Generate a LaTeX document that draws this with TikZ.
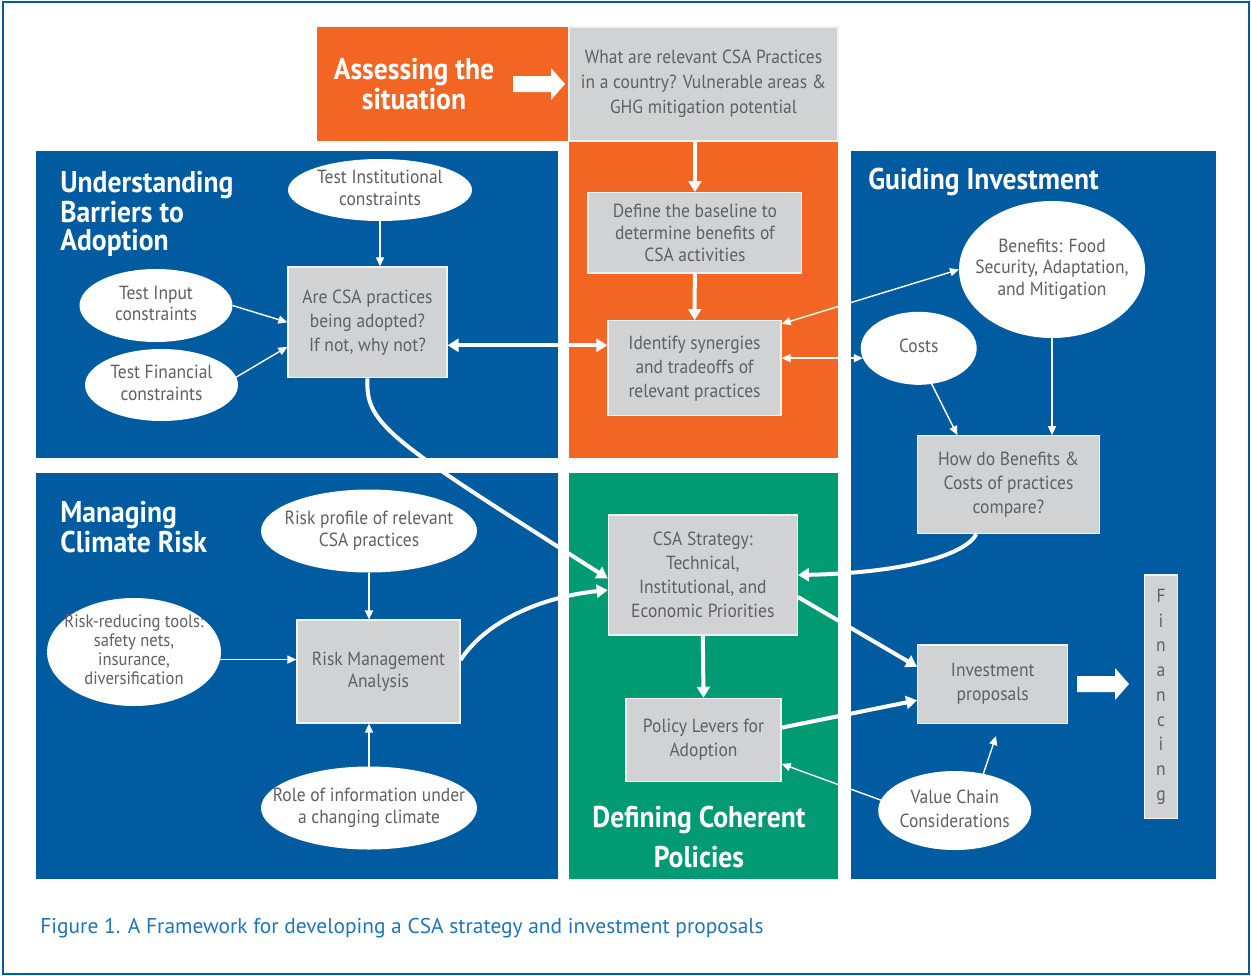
\documentclass[tikz,border=0pt]{standalone}
\usepackage{fontspec}
\setmainfont{PT Sans}[FakeStretch=0.92]
\newfontfamily\capfont{PT Sans}
\usetikzlibrary{arrows.meta,shapes.geometric}

\definecolor{fwblue}{RGB}{0,91,161}
\definecolor{fworange}{RGB}{242,101,34}
\definecolor{fwgreen}{RGB}{0,155,114}
\definecolor{boxgray}{RGB}{209,210,212}
\definecolor{txtgray}{RGB}{95,96,98}
\definecolor{capblue}{RGB}{30,117,187}

\newcommand{\ovaltext}[1]{\makebox[0pt]{\begin{tabular}{@{}c@{}}#1\end{tabular}}}

\tikzset{
  box/.style={rectangle, fill=boxgray, draw=white!70!boxgray, line width=0.6pt,
    text=txtgray, align=center, inner sep=1pt, font=\fontsize{9.5}{12}\selectfont},
  oval/.style={ellipse, fill=white, inner sep=0pt, outer sep=0pt,
    text=txtgray, font=\fontsize{9.5}{10.8}\selectfont},
  title/.style={text=white, inner sep=0pt, align=left,
    font=\fontsize{15}{13.8}\selectfont\bfseries},
  fatline/.style={draw=white, line width=2pt, -{Triangle[length=5.5pt,width=6.5pt]}},
  fatboth/.style={fatline, {Triangle[length=5.5pt,width=6.5pt]}-{Triangle[length=5.5pt,width=6.5pt]}},
  thinline/.style={draw=white, line width=0.7pt, -{Triangle[length=4.5pt,width=4pt]}},
  thinboth/.style={thinline, {Triangle[length=4.5pt,width=4pt]}-{Triangle[length=4.5pt,width=4pt]}},
}

\begin{document}
\begin{tikzpicture}[x=0.5pt,y=-0.5pt]
  \useasboundingbox (0,0) rectangle (1251,975);
  \fill[white] (0,0) rectangle (1251,975);
  \draw[fwblue, line width=1pt] (2.5,1.5) rectangle (1248.5,973.5);

  % panels
  \fill[fworange] (317,27) rectangle (569,141);
  \fill[fworange] (569,141) rectangle (838,458);
  \fill[fwblue] (36,151) rectangle (558,458);
  \fill[fwblue] (36,473) rectangle (558,879);
  \fill[fwgreen] (569,473) rectangle (838,879);
  \fill[fwblue] (851,151) rectangle (1216,879);

  % titles
  \node[title, anchor=north, align=center] (assess) at (414,58) {Assessing the\\situation};
  \node[title, anchor=north west] (barriers) at (60,171) {Understanding\\Barriers to\\Adoption};
  \node[title, anchor=north west] (guiding) at (868,168) {Guiding Investment};
  \node[title, anchor=north west] (managing) at (60,501) {Managing\\Climate Risk};
  \node[title, anchor=north, align=center, font=\fontsize{15}{20}\selectfont\bfseries] (defining) at (699,806) {Defining Coherent\\Policies};

  % boxes
  \node[box, minimum width=134.5pt, minimum height=57pt, font=\fontsize{9.5}{12.5}\selectfont] (question) at (703.5,84)
    {What are relevant CSA Practices\\in a country? Vulnerable areas \&\\GHG mitigation potential};
  \node[box, minimum width=106.9pt, minimum height=40.2pt, font=\fontsize{9.5}{10.8}\selectfont] (define) at (694.9,232.8)
    {Define the baseline to\\determine benefits of\\CSA activities};
  \node[box, minimum width=86.5pt, minimum height=47.5pt] (identify) at (694.5,368.2)
    {Identify synergies\\and tradeoffs of\\relevant practices};
  \node[box, minimum width=79.5pt, minimum height=55.4pt] (arecsa) at (367.5,322.3)
    {Are CSA practices\\being adopted?\\If not, why not?};
  \node[box, minimum width=90.8pt, minimum height=48.8pt] (compare) at (1008.5,484.5)
    {How do Benefits \&\\Costs of practices\\compare?};
  \node[box, minimum width=94.5pt, minimum height=60pt] (strategy) at (702.8,575)
    {CSA Strategy:\\Technical,\\Institutional, and\\Economic Priorities};
  \node[box, minimum width=77.5pt, minimum height=41.7pt] (levers) at (703.5,740)
    {Policy Levers for\\Adoption};
  \node[box, minimum width=75pt, minimum height=39.2pt] (proposals) at (992.7,684.2)
    {Investment\\proposals};
  \node[box, minimum width=81.5pt, minimum height=51.5pt, font=\fontsize{9.5}{11}\selectfont] (riskmgmt) at (378.5,671.5)
    {Risk Management\\Analysis};
  \node[box, minimum width=16.7pt, minimum height=121.7pt, font=\fontsize{9.5}{12.35}\selectfont] (financing) at (1161,696.7)
    {F\\i\\n\\a\\n\\c\\i\\n\\g};

  % ovals
  \node[oval, minimum width=92pt, minimum height=31pt] (tinst) at (380,190)
    {\ovaltext{Test Institutional\\constraints}};
  \node[oval, minimum width=76.5pt, minimum height=36.5pt] (tinput) at (156,305.5)
    {\ovaltext{Test Input\\constraints}};
  \node[oval, minimum width=76.5pt, minimum height=36pt] (tfin) at (161.5,385)
    {\ovaltext{Test Financial\\constraints}};
  \node[oval, minimum width=93pt, minimum height=68.5pt] (benefits) at (1052,269.5)
    {\ovaltext{Benefits: Food\\Security, Adaptation,\\and Mitigation}};
  \node[oval, minimum width=58pt, minimum height=36.5pt] (costs) at (918.7,348.3)
    {\ovaltext{Costs}};
  \node[oval, minimum width=108pt, minimum height=41.5pt] (riskprof) at (369,531)
    {\ovaltext{Risk profile of relevant\\CSA practices}};
  \node[oval, minimum width=87pt, minimum height=54pt, font=\fontsize{9}{9.5}\selectfont] (riskred) at (134,652)
    {\ovaltext{Risk-reducing tools:\\safety nets,\\insurance,\\diversification}};
  \node[oval, minimum width=108pt, minimum height=41.5pt, font=\fontsize{9.5}{11.3}\selectfont] (role) at (369,808)
    {\ovaltext{Role of information under\\a changing climate}};
  \node[oval, minimum width=76.5pt, minimum height=39.5pt, font=\fontsize{9.5}{12}\selectfont] (valuechain) at (954.7,810.5)
    {\ovaltext{Value Chain\\Considerations}};

  % block arrows
  \fill[white] (513,76) -- (551,76) -- (551,68) -- (565,84) -- (551,100) -- (551,92) -- (513,92) -- cycle;
  \fill[white] (1077,676) -- (1115,676) -- (1115,668) -- (1129,684) -- (1115,700) -- (1115,692) -- (1077,692) -- cycle;

  % connectors
  \draw[fatline] (question.south -| define.north) -- (define.north);
  \draw[fatline] (define) -- (identify);
  \draw[fatboth] (arecsa.-16) -- (arecsa.-16 -| identify.west);
  \draw[thinboth] (identify.27) -- (benefits.west);
  \draw[thinboth] (identify.east |- costs.190) -- (costs.190);
  \draw[thinline] (tinst.south) -- (tinst.south |- arecsa.north);
  \draw[thinline] (tinput.east) -- (arecsa.west);
  \draw[thinline] (tfin.6) -- (arecsa.197);
  \draw[thinline] (benefits.south) -- (benefits.south |- compare.north);
  \draw[thinline] (costs.-70) -- (compare.136);
  \draw[fatline] (arecsa.south) .. controls (365,425) and (390,440) .. (strategy.182);
  \draw[fatline] (riskmgmt.8) .. controls (485,622) and (540,597) .. (strategy.189);
  \draw[fatline] (compare.237) .. controls (965,556) and (900,573) .. (strategy.east);
  \draw[fatline] (strategy.south) -- (levers.north);
  \draw[fatline] (strategy.-13) -- (proposals.167);
  \draw[fatline] (levers.9) -- (proposals.192);
  \draw[thinline] (riskprof.south) -- (riskprof.south |- riskmgmt.north);
  \draw[thinline] (riskred.-5) -- (riskred.-5 -| riskmgmt.west);
  \draw[thinline] (role.north) -- (role.north |- riskmgmt.south);
  \coordinate (vcend) at (996,736);
  \draw[thinline] (valuechain.52) -- (vcend);
  \draw[thinline] (valuechain.172) -- (levers.343);

  % caption
  \node[anchor=base west, inner sep=0pt, text=capblue, font=\capfont\fontsize{10.7}{12}\selectfont] (caption) at (40,933)
    {Figure 1. A Framework for developing a CSA strategy and investment proposals};
\end{tikzpicture}
\end{document}
